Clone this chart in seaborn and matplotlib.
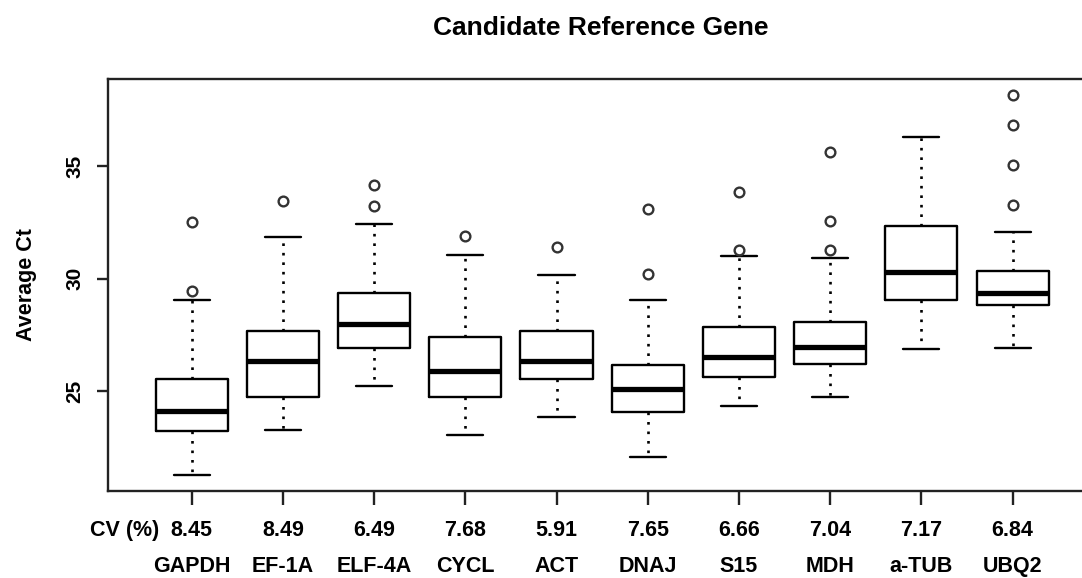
import matplotlib
matplotlib.use("Agg")
import matplotlib.pyplot as plt
import seaborn as sns

# Candidate reference genes with their coefficient of variation (%)
genes = ["GAPDH", "EF-1A", "ELF-4A", "CYCL", "ACT", "DNAJ", "S15", "MDH", "a-TUB", "UBQ2"]
cv_percent = ["8.45", "8.49", "6.49", "7.68", "5.91", "7.65", "6.66", "7.04", "7.17", "6.84"]

# Five-number summaries of the Ct values per gene
whisker_low = [21.25, 23.28, 25.22, 23.07, 23.84, 22.05, 24.35, 24.72, 26.87, 26.91]
quartile_1 = [23.22, 24.76, 26.91, 24.73, 25.52, 24.05, 25.64, 26.19, 29.04, 28.81]
median_ct = [24.11, 26.32, 27.98, 25.90, 26.35, 25.10, 26.50, 26.97, 30.29, 29.34]
quartile_3 = [25.55, 27.65, 29.36, 27.39, 27.65, 26.17, 27.83, 28.08, 32.35, 30.32]
whisker_high = [29.06, 31.84, 32.41, 31.03, 30.18, 29.03, 31.01, 30.90, 36.29, 32.07]
outliers = [
    [29.46, 32.50],
    [33.44],
    [33.22, 34.16],
    [31.90],
    [31.41],
    [30.21, 33.09],
    [31.27, 33.87],
    [31.25, 32.56, 35.62],
    [],
    [33.28, 35.04, 36.82, 38.17],
]

sns.set_theme(style="white")
plt.rcParams["font.family"] = ["Liberation Sans", "DejaVu Sans"]
plt.rcParams["font.weight"] = "bold"
for key in ["text.color", "axes.labelcolor", "xtick.color", "ytick.color"]:
    plt.rcParams[key] = "black"

fig = plt.figure(figsize=(10.82, 5.78), dpi=100)
ax = fig.add_axes([0.0995, 0.1505, 0.914, 0.7128])

stats = []
for i, g in enumerate(genes):
    stats.append(dict(label=g, whislo=whisker_low[i], q1=quartile_1[i], med=median_ct[i],
                      q3=quartile_3[i], whishi=whisker_high[i], fliers=outliers[i]))

positions = list(range(len(genes)))
ax.bxp(
    stats,
    positions=positions,
    widths=0.79,
    showfliers=True,
    patch_artist=False,
    boxprops=dict(color="black", linewidth=1.7),
    medianprops=dict(color="black", linewidth=3.8, solid_capstyle="butt"),
    whiskerprops=dict(color="black", linewidth=1.9, linestyle=(0, (1.0, 2.6))),
    capprops=dict(color="black", linewidth=1.7),
    flierprops=dict(marker="o", markerfacecolor="none", markeredgecolor="#333333",
                    markersize=7, markeredgewidth=1.7, linestyle="none"),
)

ax.set_xlim(-0.92, 9.92)
ax.set_ylim(20.56, 38.87)

for side in ["left", "bottom", "top", "right"]:
    ax.spines[side].set_color("#222222")
    ax.spines[side].set_linewidth(1.7)

ax.set_yticks([25, 30, 35])
ax.set_yticklabels(["25", "30", "35"], rotation=90, va="center", fontsize=15, fontweight="bold")
ax.tick_params(axis="y", direction="out", length=8, width=1.7, color="#222222", pad=9, left=True)

ax.set_xticks(positions)
ax.set_xticklabels([f"{c}\n{g}" for c, g in zip(cv_percent, genes)],
                   fontsize=15.5, fontweight="bold", linespacing=1.95)
ax.tick_params(axis="x", direction="out", length=10, width=1.7, color="#222222", pad=11, bottom=True)

ax.set_ylabel("Average Ct", fontsize=15.5, fontweight="bold", labelpad=20)
fig.text(0.115, 0.083, "CV (%)", ha="center", va="center", fontsize=15.5, fontweight="bold")
fig.text(0.5555, 0.951, "Candidate Reference Gene", ha="center", va="center",
         fontsize=19, fontweight="bold")

fig.savefig("out.png", dpi=100, facecolor="white")
